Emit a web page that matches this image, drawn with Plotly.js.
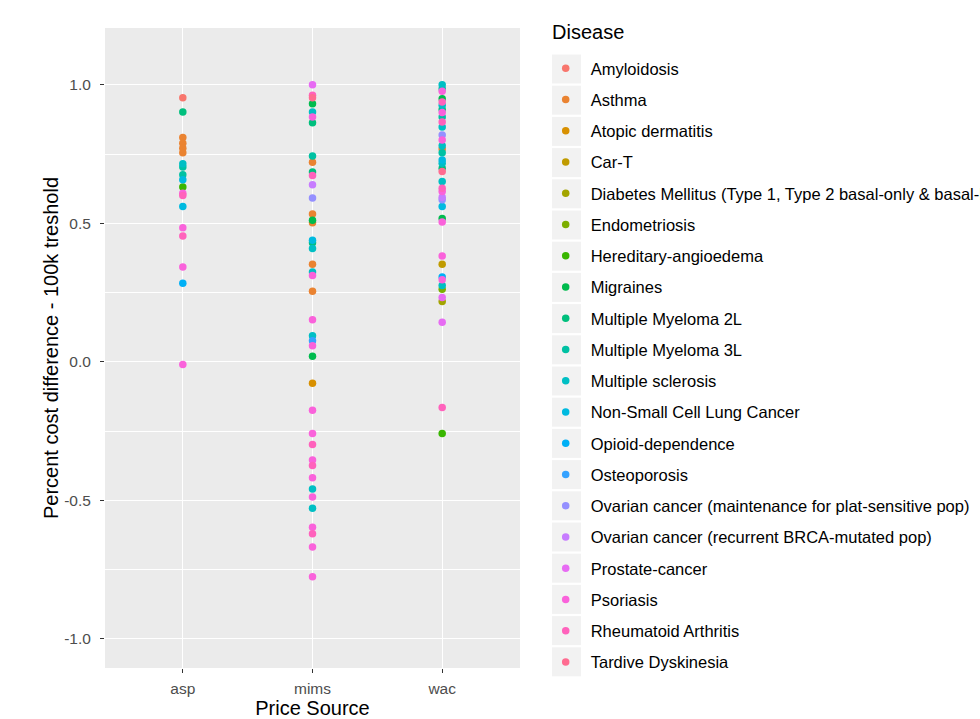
<!DOCTYPE html>
<html>
<head>
<meta charset="utf-8">
<script src="https://cdn.plot.ly/plotly-3.0.1.min.js"></script>
<style>html,body{margin:0;padding:0;background:#fff;overflow:hidden;}#chart{width:980px;height:719px;}</style>
</head>
<body>
<div id="chart"></div>
<script>
// Categories (x) and disease levels (legend order)
var sources = ['asp', 'mims', 'wac'];
var diseases = [
  'Amyloidosis', 'Asthma', 'Atopic dermatitis', 'Car-T',
  'Diabetes Mellitus (Type 1, Type 2 basal-only & basal-bolus)',
  'Endometriosis', 'Hereditary-angioedema', 'Migraines',
  'Multiple Myeloma 2L', 'Multiple Myeloma 3L', 'Multiple sclerosis',
  'Non-Small Cell Lung Cancer', 'Opioid-dependence', 'Osteoporosis',
  'Ovarian cancer (maintenance for plat-sensitive pop)',
  'Ovarian cancer (recurrent BRCA-mutated pop)', 'Prostate-cancer',
  'Psoriasis', 'Rheumatoid Arthritis', 'Tardive Dyskinesia'
];
var diseaseColors = [
  '#F8766D', '#EA8331', '#D89000', '#C09B00', '#A3A500', '#7CAE00', '#39B600',
  '#00BB4E', '#00BF7D', '#00C1A3', '#00BFC4', '#00BAE0', '#00B0F6', '#35A2FF',
  '#9590FF', '#C77CFF', '#E76BF3', '#FA62DB', '#FF62BC', '#FF6C91'
];

// asp
var aspValues = [0.953, 0.902, 0.810, 0.789, 0.771, 0.755, 0.715, 0.703, 0.675, 0.657,
  0.631, 0.609, 0.600, 0.561, 0.484, 0.454, 0.342, 0.284, -0.010];
var aspDiseases = ['Amyloidosis', 'Multiple Myeloma 2L', 'Asthma', 'Asthma', 'Asthma', 'Asthma',
  'Multiple sclerosis', 'Multiple Myeloma 3L', 'Multiple Myeloma 3L', 'Non-Small Cell Lung Cancer',
  'Hereditary-angioedema', 'Psoriasis', 'Rheumatoid Arthritis', 'Non-Small Cell Lung Cancer',
  'Psoriasis', 'Rheumatoid Arthritis', 'Psoriasis', 'Opioid-dependence', 'Psoriasis'];

// mims
var mimsValues = [1.000, 0.962, 0.953, 0.932, 0.902, 0.884, 0.863, 0.743, 0.720, 0.685,
  0.673, 0.639, 0.591, 0.534, 0.511, 0.502, 0.439, 0.430, 0.409, 0.352,
  0.324, 0.312, 0.255, 0.152, 0.094, 0.076, 0.058, 0.020, -0.077, -0.175,
  -0.259, -0.298, -0.354, -0.374, -0.418, -0.459, -0.488, -0.528, -0.597, -0.620,
  -0.668, -0.776];
var mimsDiseases = ['Prostate-cancer', 'Rheumatoid Arthritis', 'Tardive Dyskinesia', 'Migraines',
  'Multiple sclerosis', 'Psoriasis', 'Multiple Myeloma 2L', 'Multiple Myeloma 3L', 'Asthma',
  'Multiple Myeloma 2L', 'Rheumatoid Arthritis', 'Ovarian cancer (recurrent BRCA-mutated pop)',
  'Ovarian cancer (maintenance for plat-sensitive pop)', 'Asthma', 'Migraines', 'Asthma',
  'Non-Small Cell Lung Cancer', 'Multiple Myeloma 2L', 'Multiple sclerosis', 'Asthma',
  'Multiple sclerosis', 'Psoriasis', 'Asthma', 'Psoriasis', 'Multiple sclerosis', 'Osteoporosis',
  'Psoriasis', 'Migraines', 'Atopic dermatitis', 'Psoriasis',
  'Psoriasis', 'Rheumatoid Arthritis', 'Psoriasis', 'Rheumatoid Arthritis', 'Psoriasis',
  'Multiple sclerosis', 'Psoriasis', 'Multiple sclerosis', 'Psoriasis', 'Rheumatoid Arthritis',
  'Psoriasis', 'Psoriasis'];

// wac
var wacValues = [1.000, 0.986, 0.977, 0.950, 0.938, 0.926, 0.911, 0.900, 0.884, 0.866,
  0.848, 0.819, 0.801, 0.780, 0.768, 0.755, 0.729, 0.717, 0.699, 0.687,
  0.651, 0.627, 0.615, 0.594, 0.585, 0.561, 0.517, 0.505, 0.382, 0.352,
  0.306, 0.296, 0.276, 0.262, 0.232, 0.218, 0.143, -0.165, -0.259];
var wacDiseases = ['Multiple sclerosis', 'Multiple Myeloma 3L', 'Psoriasis', 'Migraines',
  'Rheumatoid Arthritis', 'Multiple sclerosis', 'Multiple Myeloma 2L', 'Psoriasis',
  'Multiple Myeloma 3L', 'Rheumatoid Arthritis', 'Multiple sclerosis',
  'Ovarian cancer (maintenance for plat-sensitive pop)', 'Psoriasis', 'Multiple sclerosis',
  'Asthma', 'Multiple Myeloma 3L', 'Non-Small Cell Lung Cancer', 'Multiple sclerosis',
  'Multiple Myeloma 2L', 'Tardive Dyskinesia', 'Multiple sclerosis', 'Rheumatoid Arthritis',
  'Psoriasis', 'Ovarian cancer (recurrent BRCA-mutated pop)',
  'Ovarian cancer (maintenance for plat-sensitive pop)', 'Non-Small Cell Lung Cancer',
  'Migraines', 'Psoriasis', 'Psoriasis', 'Car-T', 'Opioid-dependence', 'Psoriasis',
  'Multiple sclerosis', 'Endometriosis', 'Prostate-cancer',
  'Diabetes Mellitus (Type 1, Type 2 basal-only & basal-bolus)', 'Prostate-cancer',
  'Rheumatoid Arthritis', 'Hereditary-angioedema'];

var yTickVals = [-1, -0.5, 0, 0.5, 1];
var yTickText = ['-1.0', '-0.5', '0.0', '0.5', '1.0'];

var bySource = {asp: [aspValues, aspDiseases], mims: [mimsValues, mimsDiseases], wac: [wacValues, wacDiseases]};

var traces = diseases.map(function (d, i) {
  var xs = [], ys = [];
  sources.forEach(function (s) {
    var v = bySource[s][0], dd = bySource[s][1];
    for (var k = 0; k < v.length; k++) if (dd[k] === d) { xs.push(s); ys.push(v[k]); }
  });
  return {
    type: 'scatter', mode: 'markers', name: d, legendgroup: 'g' + i,
    x: xs, y: ys,
    marker: {color: diseaseColors[i], size: 7.5},
    hoverinfo: 'x+y+name'
  };
});

// layout geometry (pixels)
var W = 980, H = 719, L = 105, R = 520, T = 28, B = 668;
function fx(p) { return p / W; }
function fy(p) { return (H - p) / H; }

var shapes = [];
for (var i = 0; i < diseases.length; i++) {
  var cy = 69 + 31.2 * i;
  shapes.push({type: 'rect', xref: 'paper', yref: 'paper', layer: 'below',
    x0: fx(552), x1: fx(581), y0: fy(cy - 14.5), y1: fy(cy + 14.5),
    fillcolor: '#F2F2F2', line: {width: 0}});
}

var layout = {
  width: W, height: H,
  margin: {l: 0, r: 0, t: 0, b: 0, pad: 0, autoexpand: false},
  paper_bgcolor: '#FFFFFF', plot_bgcolor: '#EBEBEB',
  font: {family: 'Liberation Sans, Arial, sans-serif', color: '#000'},
  showlegend: true,
  xaxis: {
    domain: [fx(L), fx(R)],
    type: 'category', categoryorder: 'array', categoryarray: sources,
    range: [-0.6, 2.6], showgrid: true, gridcolor: '#FFFFFF', gridwidth: 1.3,
    zeroline: false, showline: false, ticks: 'outside', ticklen: 4, tickcolor: '#333333', tickwidth: 1,
    ticklabelstandoff: 2,
    tickfont: {size: 15.5, color: '#4D4D4D'},
    title: {text: 'Price Source', font: {size: 20, color: '#000'}, standoff: 6}
  },
  yaxis: {
    domain: [fy(B), fy(T)],
    range: [-1.105, 1.205], tickvals: yTickVals, ticktext: yTickText,
    showgrid: true, gridcolor: '#FFFFFF', gridwidth: 1.3,
    minor: {dtick: 0.25, tick0: 0.25, showgrid: true, gridcolor: '#FFFFFF', gridwidth: 0.6, ticks: ''},
    zeroline: false, showline: false, ticks: 'outside', ticklen: 4, tickcolor: '#333333', tickwidth: 1,
    ticklabelstandoff: 6,
    tickfont: {size: 15.5, color: '#4D4D4D'},
    title: {text: 'Percent cost difference - 100k treshold', font: {size: 20, color: '#000'}, standoff: 0}
  },
  legend: {
    x: fx(540.7), xanchor: 'left', y: fy(51), yanchor: 'top',
    bgcolor: 'rgba(0,0,0,0)', traceorder: 'grouped', tracegroupgap: 6.8,
    itemwidth: 40,
    font: {size: 16.5, color: '#000'},
    itemclick: false, itemdoubleclick: false
  },
  annotations: [{
    text: 'Disease', xref: 'paper', yref: 'paper', x: fx(550), y: fy(32),
    xanchor: 'left', yanchor: 'middle', showarrow: false,
    font: {size: 20, color: '#000'}
  }],
  shapes: shapes
};

Plotly.newPlot('chart', traces, layout, {displayModeBar: false, responsive: false});
</script>
</body>
</html>
